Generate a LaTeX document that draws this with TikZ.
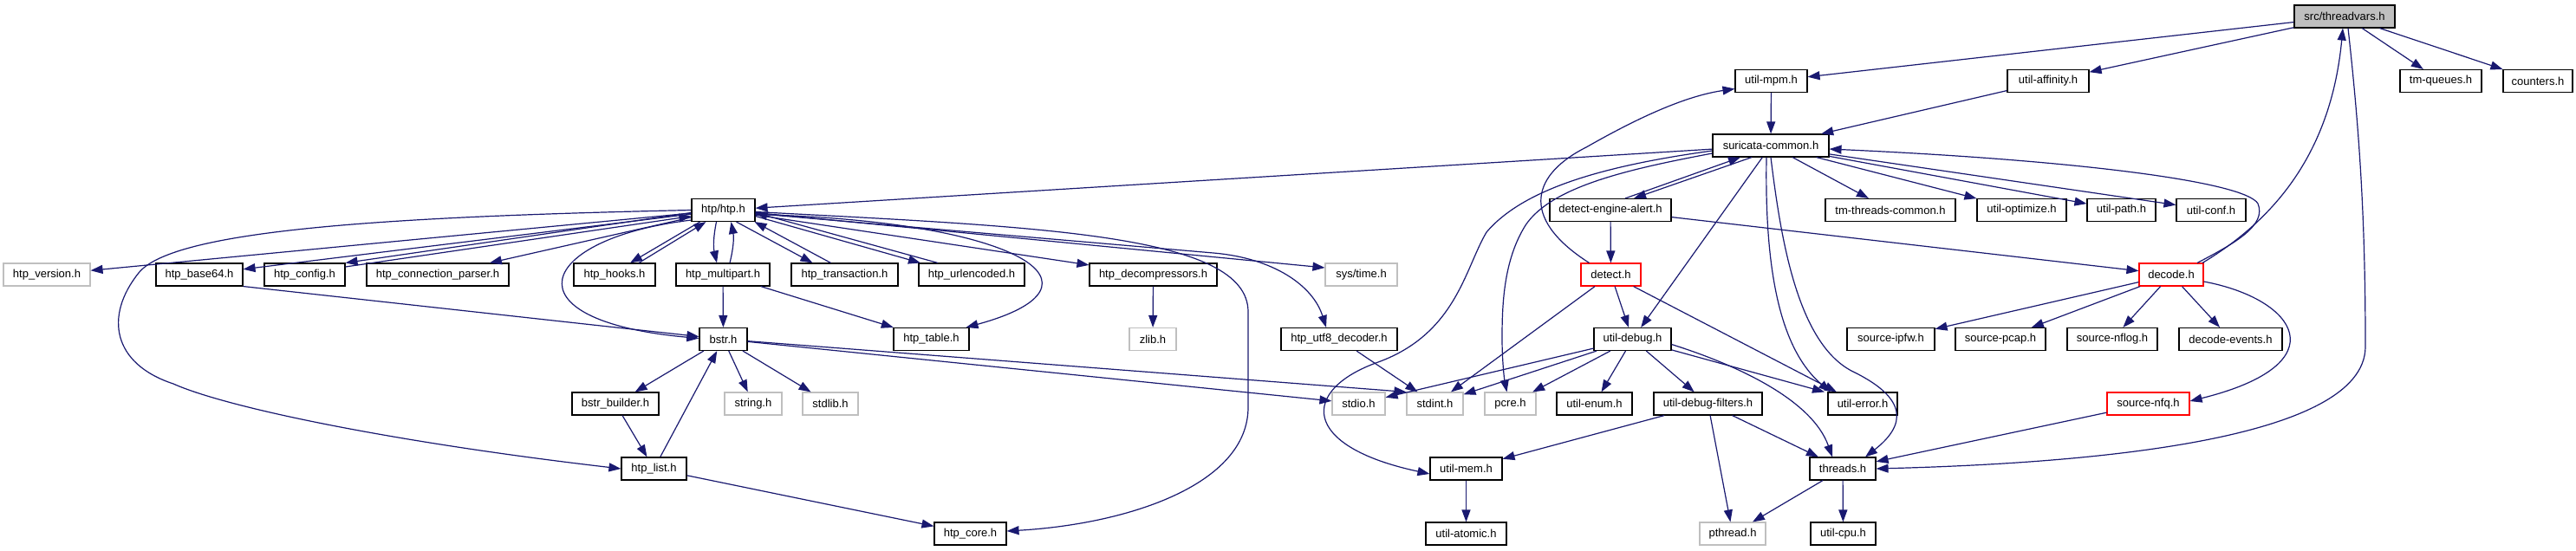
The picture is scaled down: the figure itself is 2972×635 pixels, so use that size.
\documentclass[tikz,border=0pt]{standalone}
\usepackage{fontspec}
\setmainfont{Liberation Sans}
\usetikzlibrary{arrows.meta}
\definecolor{edgecol}{HTML}{191970}
\definecolor{graybd}{HTML}{BFBFBF}
\definecolor{redbd}{HTML}{FF0000}
\begin{document}
\begin{tikzpicture}[x=1pt,y=-1pt,
  nb/.style={draw=black, line width=1.1pt, fill=white, minimum height=26pt, inner sep=0pt, font=\fontsize{13}{14}\selectfont},
  ng/.style={nb, draw=graybd},
  nr/.style={nb, draw=redbd},
  e/.style={draw=edgecol, line width=1.2pt, -{Triangle[length=14pt,width=10pt]}}]
\useasboundingbox[fill=white] (0,0) rectangle (2972,635);
% row 0
\node[nb, fill=graybd, minimum width=116pt] (tv) at (2705,19) {src/threadvars.h};
% row 1
\node[nb, minimum width=83pt] (mpm) at (2043.5,93.5) {util-mpm.h};
\node[nb, minimum width=94pt] (aff) at (2363,93.5) {util-affinity.h};
\node[nb, minimum width=94pt] (tmq) at (2816,93.5) {tm-queues.h};
\node[nb, minimum width=80pt] (cnt) at (2928,93.5) {counters.h};
% row 2
\node[nb, minimum width=134pt] (sc) at (2043,168) {suricata-common.h};
% row 3
\node[nb, minimum width=73pt] (htp) at (834.5,242.5) {htp/htp.h};
\node[nb, minimum width=140pt] (dea) at (1858,242.5) {detect-engine-alert.h};
\node[nb, minimum width=150pt] (ttc) at (2181,242.5) {tm-threads-common.h};
\node[nb, minimum width=103pt] (opt) at (2332.5,242.5) {util-optimize.h};
\node[nb, minimum width=79pt] (path) at (2447.5,242.5) {util-path.h};
\node[nb, minimum width=80pt] (conf) at (2551,242.5) {util-conf.h};
% row 4
\node[ng, minimum width=100pt] (ver) at (54,317) {htp\_version.h};
\node[nb, minimum width=100pt] (b64) at (230,317) {htp\_base64.h};
\node[nb, minimum width=93pt] (cfg) at (351.5,317) {htp\_config.h};
\node[nb, minimum width=164pt] (cp) at (505,317) {htp\_connection\_parser.h};
\node[nb, minimum width=94pt] (hooks) at (709,317) {htp\_hooks.h};
\node[nb, minimum width=108pt] (mp) at (834,317) {htp\_multipart.h};
\node[nb, minimum width=123pt] (tx) at (974.5,317) {htp\_transaction.h};
\node[nb, minimum width=122pt] (ue) at (1121,317) {htp\_urlencoded.h};
\node[nb, minimum width=147pt] (dec) at (1330.5,317) {htp\_decompressors.h};
\node[ng, minimum width=83pt] (st) at (1570.5,317) {sys/time.h};
\node[nr, minimum width=69pt] (det) at (1858.5,317) {detect.h};
\node[nr, minimum width=74pt] (decode) at (2505,317) {decode.h};
% row 5
\node[nb, minimum width=55pt] (bstr) at (834.5,391.5) {bstr.h};
\node[nb, minimum width=87pt] (tbl) at (1074.5,391.5) {htp\_table.h};
\node[ng, minimum width=54pt] (zlib) at (1330,391.5) {zlib.h};
\node[nb, minimum width=134pt] (utf8) at (1545,391.5) {htp\_utf8\_decoder.h};
\node[nb, minimum width=89pt] (dbg) at (1883.5,391.5) {util-debug.h};
\node[nb, minimum width=101pt] (ipfw) at (2181.5,391.5) {source-ipfw.h};
\node[nb, minimum width=104pt] (pcap) at (2308,391.5) {source-pcap.h};
\node[nb, minimum width=104pt] (nflog) at (2437,391.5) {source-nflog.h};
\node[nb, minimum width=119pt] (dev) at (2573.5,391.5) {decode-events.h};
% row 6
\node[nb, minimum width=100pt] (bb) at (710,466) {bstr\_builder.h};
\node[ng, minimum width=66pt] (str) at (869,466) {string.h};
\node[ng, minimum width=64pt] (stdl) at (958,466) {stdlib.h};
\node[ng, minimum width=61pt] (stdio) at (1567.5,466) {stdio.h};
\node[ng, minimum width=65pt] (stdint) at (1655.5,466) {stdint.h};
\node[ng, minimum width=59pt] (pcre) at (1742.5,466) {pcre.h};
\node[nb, minimum width=87pt] (enum) at (1839.5,466) {util-enum.h};
\node[nb, minimum width=125pt] (dbgf) at (1970.5,466) {util-debug-filters.h};
\node[nb, minimum width=80pt] (err) at (2149,466) {util-error.h};
\node[nr, minimum width=95pt] (nfq) at (2478.5,466) {source-nfq.h};
% row 7
\node[nb, minimum width=75pt] (list) at (754.5,541) {htp\_list.h};
\node[nb, minimum width=83pt] (mem) at (1691.5,541) {util-mem.h};
\node[nb, minimum width=76pt] (thr) at (2126,541) {threads.h};
% row 8
\node[nb, minimum width=83pt] (core) at (1119.5,616) {htp\_core.h};
\node[nb, minimum width=93pt] (atom) at (1691.5,616) {util-atomic.h};
\node[ng, minimum width=76pt] (pth) at (1999,616) {pthread.h};
\node[nb, minimum width=75pt] (cpu) at (2126.5,616) {util-cpu.h};

% ---- edges ----
% threadvars
\draw[e] (tv) -- (mpm);
\draw[e] (tv) -- (aff);
\draw[e] (tv) -- (tmq);
\draw[e] (tv) -- (cnt);
\draw[e] ([xshift=4pt]tv.south) .. controls (2722,150) and (2729,250) .. (2729,400) .. controls (2729,510) and (2400,535) .. (thr.east);
\draw[e] ([xshift=36pt]decode.north) .. controls (2630,250) and (2690,170) .. ([xshift=-2pt]tv.south);
\draw[e] ([xshift=30pt]decode.north) .. controls (2580,280) and (2615,260) .. (2605,235) .. controls (2590,210) and (2400,185) .. ([yshift=-4pt]sc.east);
% suricata-common
\draw[e] (mpm) -- (sc);
\draw[e] (aff) -- (sc);
\draw[e] ([xshift=-25pt]det.north) .. controls (1750,250) and (1770,200) .. (1830,170) .. controls (1900,130) and (1950,110) .. ([yshift=-9pt]mpm.west);
\draw[e] (sc) -- (htp);
\draw[e] ([xshift=-22pt]sc.south) -- ([xshift=27pt]dea.north);
\draw[e] ([xshift=17pt]dea.north) -- ([xshift=-35pt]sc.south);
\draw[e] (sc) -- (ttc);
\draw[e] (sc) -- (opt);
\draw[e] (sc) -- (path);
\draw[e] (sc) -- (conf);
\draw[e] ([yshift=-6pt]sc.west) .. controls (1860,190) and (1760,215) .. (1715,268) .. controls (1690,310) and (1680,385) .. (1590,418) .. controls (1500,450) and (1500,515) .. ([yshift=-6pt]mem.west);
\draw[e] ([yshift=-9pt]sc.west) .. controls (1880,195) and (1790,215) .. (1760,260) .. controls (1735,300) and (1733,350) .. (1733,390) .. controls (1733,420) and (1736,440) .. ([xshift=-4pt]pcre.north);
\draw[e] (sc) -- (dbg);
\draw[e] ([xshift=-5pt]sc.south) .. controls (2036,300) and (2050,400) .. ([xshift=-37pt]err.north);
\draw[e] (sc.south) .. controls (2055,280) and (2075,400) .. (2140,430) .. controls (2200,460) and (2200,490) .. ([xshift=26pt]thr.north);
% htp/htp.h
\draw[e] (htp) -- (ver);
\draw[e] (htp) -- (b64);
\draw[e] ([yshift=-3pt]htp.west) -- (cfg.north east);
\draw[e] ([yshift=9pt]cfg.east) -- ([yshift=-7pt]htp.west);
\draw[e] (htp) -- (cp);
\draw[e] ([xshift=-27pt]htp.south) -- ([xshift=18pt]hooks.north);
\draw[e] ([xshift=28pt]hooks.north) -- ([xshift=-20pt]htp.south);
\draw[e] ([xshift=-8pt]htp.south) to[bend right=12] ([xshift=-7pt]mp.north);
\draw[e] ([xshift=8pt]mp.north) to[bend right=12] ([xshift=9pt]htp.south);
\draw[e] ([xshift=15pt]htp.south) -- ([xshift=-37pt]tx.north);
\draw[e] ([xshift=-16pt]tx.north) -- ([xshift=-1pt]htp.south east);
\draw[e] ([yshift=-7pt]htp.east) -- ([xshift=-59pt]ue.north);
\draw[e] ([xshift=-39pt]ue.north) -- ([yshift=-3pt]htp.east);
\draw[e] (htp) -- (dec);
\draw[e] ([yshift=-3pt]htp.east) -- ([yshift=8pt]st.west);
\draw[e] ([yshift=-4pt]htp.east) -- (1400,292) .. controls (1470,298) and (1515,330) .. ([xshift=-15pt]utf8.north);
\draw[e] ([yshift=-5pt]htp.east) .. controls (1180,255) and (1290,330) .. ([xshift=40pt]tbl.north);
\draw[e] ([yshift=-2pt]htp.east) .. controls (1200,262) and (1440,270) .. (1440,360) -- (1440,470) .. controls (1440,560) and (1300,605) .. ([yshift=3pt]core.east);
\draw[e] (htp.west) .. controls (450,250) and (200,265) .. (160,315) .. controls (120,365) and (130,420) .. (200,443) .. controls (260,470) and (450,510) .. (list.west);
\draw[e] ([yshift=2pt]htp.south west) .. controls (620,275) and (580,370) .. ([yshift=1pt]bstr.west);
% htp children
\draw[e] (b64.south east) -- ([yshift=3pt]bstr.west);
\draw[e] (mp) -- (bstr);
\draw[e] (mp) -- (tbl);
\draw[e] (dec) -- (zlib);
\draw[e] (bstr) -- (bb);
\draw[e] (bstr) -- (str);
\draw[e] (bstr) -- (stdl);
\draw[e] (bstr) -- (stdio);
\draw[e] (bstr) -- (stdint.north west);
\draw[e] (list) -- (bstr);
\draw[e] (bb) -- (list);
\draw[e] (list) -- (core);
\draw[e] (utf8) -- (stdint);
% detect
\draw[e] (dea) -- (det);
\draw[e] (dea) -- (decode);
\draw[e] (det) -- (stdint);
\draw[e] (det) -- (dbg);
\draw[e] (det) -- ([xshift=-30pt]err.north);
% util-debug
\draw[e] (dbg) -- (stdio);
\draw[e] (dbg) -- (stdint);
\draw[e] (dbg) -- (pcre);
\draw[e] (dbg) -- (enum);
\draw[e] (dbg) -- (dbgf);
\draw[e] (dbg) -- ([xshift=-44pt]err.north);
\draw[e] ([yshift=-6pt]dbg.east) .. controls (2000,420) and (2090,460) .. ([xshift=-12pt]thr.north);
\draw[e] (dbgf) -- (thr);
\draw[e] (dbgf) -- (pth);
\draw[e] (dbgf) -- (mem);
\draw[e] (mem) -- (atom);
\draw[e] (thr) -- (pth);
\draw[e] (thr) -- (cpu);
\draw[e] (nfq) -- (thr);
% decode
\draw[e] (decode) -- (ipfw);
\draw[e] (decode) -- (pcap);
\draw[e] (decode) -- (nflog);
\draw[e] (decode) -- (dev);
\draw[e] ([yshift=-8pt]decode.east) .. controls (2650,345) and (2700,420) .. ([yshift=3pt]nfq.east);
\end{tikzpicture}
\end{document}
